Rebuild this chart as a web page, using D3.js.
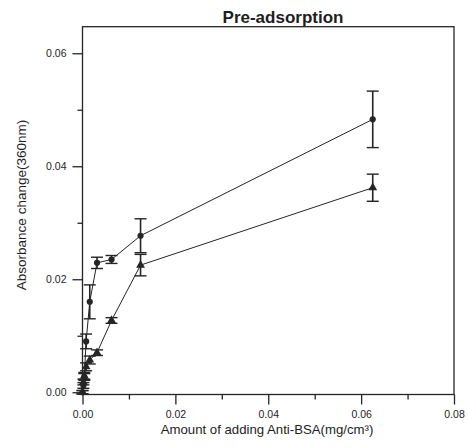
<!DOCTYPE html>
<html>
<head>
<meta charset="utf-8">
<script src="https://cdn.jsdelivr.net/npm/d3@7"></script>
<style>
  html, body { margin: 0; padding: 0; background: #fff; }
  svg { display: block; }
  text { font-family: "Liberation Sans", Arial, sans-serif; fill: #1e1e1e; }
</style>
</head>
<body>
<svg id="chart" width="468" height="448"></svg>
<script>
// Anti-BSA amount (mg/cm^3), shared by both series
const amounts = [0, 0.000195, 0.00039, 0.00078, 0.0015625, 0.003125, 0.00625, 0.0125, 0.0625];

// Series drawn with circle markers
const circleValues = [0, 0.0012, 0.0027, 0.0090, 0.0160, 0.0229, 0.0235, 0.0277, 0.0483];
const circleErrors = [0.0003, 0.0005, 0.0006, 0.0013, 0.0030, 0.0010, 0.0007, 0.0030, 0.0050];

// Series drawn with triangle markers
const triangleValues = [0, 0.0018, 0.0029, 0.0045, 0.0057, 0.0070, 0.0127, 0.0225, 0.0362];
const triangleErrors = [0.0003, 0.0005, 0.0006, 0.0007, 0.0007, 0.0005, 0.0005, 0.0019, 0.0024];

// Axis ticks
const xTicks = [0, 0.02, 0.04, 0.06, 0.08];
const xMinorTicks = [0.01, 0.03, 0.05, 0.07];
const yTicks = [0, 0.02, 0.04, 0.06];
const yMinorTicks = [0.01, 0.03, 0.05];

const titleText = "Pre-adsorption";
const xLabel = "Amount of adding Anti-BSA(mg/cm\u00B3)";
const yLabel = "Absorbance change(360nm)";

const svg = d3.select("#chart");
const ink = "#252525";

const plotLeft = 82.5, plotRight = 454, plotTop = 26.7, plotBottom = 394.5;

const x = d3.scaleLinear().domain([0, 0.08]).range([plotLeft, plotRight]);
const y = d3.scaleLinear().domain([-0.0004, 0.0647]).range([plotBottom, plotTop]);

const fmt = d3.format(".2f");

// Frame
svg.append("rect")
  .attr("x", plotLeft).attr("y", plotTop)
  .attr("width", plotRight - plotLeft).attr("height", plotBottom - plotTop)
  .attr("fill", "none").attr("stroke", ink).attr("stroke-width", 1.3);

// Bottom axis (major + minor ticks pointing outward)
svg.append("g").attr("transform", `translate(0,${plotBottom})`)
  .call(d3.axisBottom(x).tickValues(xTicks).tickFormat(fmt).tickSize(10).tickPadding(6.5));
svg.append("g").attr("transform", `translate(0,${plotBottom})`)
  .call(d3.axisBottom(x).tickValues(xMinorTicks).tickFormat("").tickSize(5));

// Left axis
svg.append("g").attr("transform", `translate(${plotLeft},0)`)
  .call(d3.axisLeft(y).tickValues(yTicks).tickFormat(fmt).tickSize(10).tickPadding(6));
svg.append("g").attr("transform", `translate(${plotLeft},0)`)
  .call(d3.axisLeft(y).tickValues(yMinorTicks).tickFormat("").tickSize(5));

svg.selectAll(".domain").remove();
svg.selectAll(".tick line").attr("stroke", ink).attr("stroke-width", 1.3);
svg.selectAll(".tick text").attr("font-size", 10.5).attr("fill", ink)
  .attr("font-family", "Liberation Sans, Arial, sans-serif");

// Titles
svg.append("text")
  .attr("x", 283).attr("y", 22.5)
  .attr("text-anchor", "middle")
  .attr("font-size", 17).attr("font-weight", "bold")
  .text(titleText);

svg.append("text")
  .attr("x", 267).attr("y", 434)
  .attr("text-anchor", "middle")
  .attr("font-size", 13.2)
  .text(xLabel);

svg.append("text")
  .attr("transform", "translate(26,205) rotate(-90)")
  .attr("text-anchor", "middle")
  .attr("font-size", 13.5)
  .text(yLabel);

// Draw one series: connecting line, error bars, markers
function drawSeries(values, errors, marker) {
  const pts = amounts.map((a, i) => ({ a, v: values[i], e: errors[i] }));
  const g = svg.append("g");

  g.append("path")
    .datum(pts)
    .attr("fill", "none").attr("stroke", ink).attr("stroke-width", 1)
    .attr("d", d3.line().x(d => x(d.a)).y(d => y(d.v)));

  const eb = g.selectAll(".eb").data(pts).join("g");
  eb.append("line")
    .attr("x1", d => x(d.a)).attr("x2", d => x(d.a))
    .attr("y1", d => y(d.v - d.e)).attr("y2", d => y(d.v + d.e))
    .attr("stroke", ink).attr("stroke-width", 1.6);
  [-1, 1].forEach(s => {
    eb.append("line")
      .attr("x1", d => x(d.a) - 6).attr("x2", d => x(d.a) + 6)
      .attr("y1", d => y(d.v + s * d.e)).attr("y2", d => y(d.v + s * d.e))
      .attr("stroke", ink).attr("stroke-width", 1.4);
  });

  g.selectAll(".mk").data(pts).join("path")
    .attr("transform", d => `translate(${x(d.a)},${y(d.v)})`)
    .attr("d", d3.symbol().type(marker).size(marker === d3.symbolTriangle ? 34 : 30))
    .attr("fill", ink);
}

drawSeries(circleValues, circleErrors, d3.symbolCircle);
drawSeries(triangleValues, triangleErrors, d3.symbolTriangle);
</script>
</body>
</html>
